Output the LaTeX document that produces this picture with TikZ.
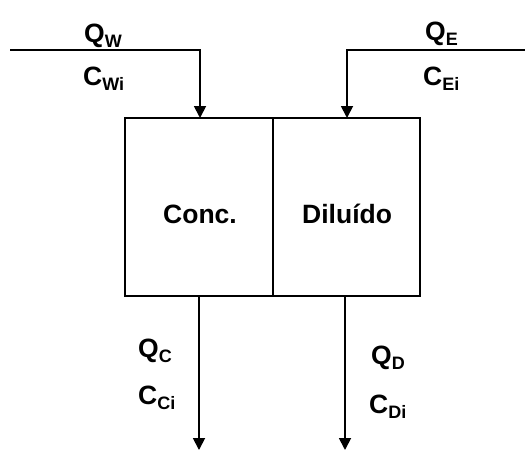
\documentclass[tikz,border=0pt]{standalone}
\usepackage{fontspec}
\setmainfont{Liberation Sans}
\usetikzlibrary{arrows.meta}
\newcommand{\lsub}[1]{\raisebox{-5pt}{\fontsize{18}{18}\selectfont #1}}
\tikzset{
  chamber/.style={draw, line width=1.8pt, minimum height=178pt, inner sep=0pt, outer sep=0pt},
  lbl/.style={anchor=base west, inner sep=0pt, font=\fontsize{26.5}{26.5}\selectfont\bfseries},
  flow/.style={line width=1.8pt, -{Triangle[length=12pt,width=12pt]}},
}
\begin{document}
\begin{tikzpicture}[x=1pt,y=-1pt]
\useasboundingbox (0,0) rectangle (525,451);
\node[chamber, minimum width=148pt, anchor=north west] (conc) at (125,118) {};
\node[chamber, minimum width=147pt, anchor=north west] (dil) at (273,118) {};
\node[lbl] (tconc) at (163,223) {Conc.};
\node[lbl] (tdil) at (302,223) {Diluído};
\coordinate (wstart) at (10,50);
\coordinate (wcorner) at (200,50);
\coordinate (estart) at (525,50);
\coordinate (ecorner) at (347,50);
\coordinate (cend) at (199,450);
\coordinate (dend) at (345,450);
\draw[flow] (wstart) -- (wcorner) -- (wcorner |- conc.north);
\draw[flow] (estart) -- (ecorner) -- (ecorner |- dil.north);
\draw[flow] (cend |- conc.south) -- (cend);
\draw[flow] (dend |- dil.south) -- (dend);
\node[lbl] (qw) at (84,42) {Q\lsub{W}};
\node[lbl] (cw) at (83,85) {C\lsub{Wi}};
\node[lbl] (qe) at (425,40) {Q\lsub{E}};
\node[lbl] (ce) at (423,85) {C\lsub{Ei}};
\node[lbl] (qc) at (138,357) {Q\lsub{C}};
\node[lbl] (cc) at (138,404) {C\lsub{Ci}};
\node[lbl] (qd) at (371,364) {Q\lsub{D}};
\node[lbl] (cd) at (369,413) {C\lsub{Di}};
\end{tikzpicture}
\end{document}
